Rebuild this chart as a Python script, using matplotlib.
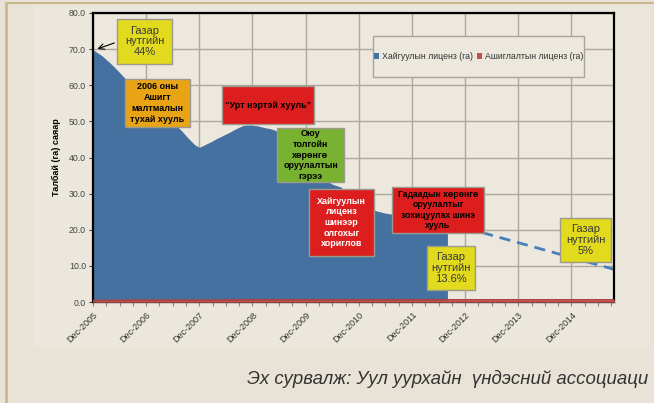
import matplotlib
matplotlib.use('agg')
import matplotlib.pyplot as plt
from matplotlib.patches import Rectangle, Patch
from matplotlib.lines import Line2D

plt.rcParams['font.family'] = ['Liberation Sans', 'DejaVu Sans']

# month index: 0 = Dec-2005
expl_vals = [69.8, 69.0, 68.2, 67.1, 66.0, 64.8, 63.5, 62.2, 61.3, 60.2,
             59.1, 58.0, 57.1, 56.0, 54.9, 53.7, 52.6, 51.3, 50.1, 48.6,
             47.4, 46.0, 44.7, 43.5, 42.8, 43.4, 44.0, 44.6, 45.3, 45.9,
             46.5, 47.1, 47.8, 48.4, 48.9, 49.0, 48.9, 48.8, 48.5, 48.2,
             48.0, 47.6, 46.9, 46.0, 44.9, 43.8, 42.5, 41.3, 40.0, 38.8,
             37.4, 36.1, 34.8, 33.5, 32.6, 32.2, 31.8, 30.6, 29.5, 28.5,
             27.6, 26.8, 26.2, 25.7, 25.2, 24.9, 24.6, 24.4, 24.3, 24.1,
             23.9, 23.7, 23.5, 23.3, 23.1, 22.9, 22.7, 22.5, 22.3, 22.1,
             21.9]
expl_months = list(range(len(expl_vals)))

mine_months = [0, 12, 24, 36, 48, 60, 72, 84, 96, 108, 118]
mine_vals = [0.4, 0.5, 0.5, 0.6, 0.6, 0.6, 0.6, 0.6, 0.6, 0.6, 0.6]

proj_months = [80, 118]
proj_vals = [21.9, 8.9]

tick_labels = ['Dec-2005', 'Dec-2006', 'Dec-2007', 'Dec-2008', 'Dec-2009',
               'Dec-2010', 'Dec-2011', 'Dec-2012', 'Dec-2013', 'Dec-2014']

W, H = 654, 403
fig = plt.figure(figsize=(W / 100, H / 100), dpi=100)
fig.patch.set_facecolor('#e8e3d6')

def px(x0, y0, x1, y1):
    return (x0 / W, 1 - y1 / H, (x1 - x0) / W, (y1 - y0) / H)

# chart area + frame lines
l, b, w, h = px(33, 5, 650, 347)
fig.add_artist(Rectangle((l, b), w, h, transform=fig.transFigure,
                         facecolor='#ebe7dc', edgecolor='none', zorder=-1))
fig.add_artist(Line2D([6 / W, 6 / W], [0, 1 - 3 / H], transform=fig.transFigure,
                      color='#c9b98d', lw=2))
fig.add_artist(Line2D([6 / W, 1], [1 - 3 / H, 1 - 3 / H], transform=fig.transFigure,
                      color='#c9b98d', lw=1.5))

ax = fig.add_axes(px(93, 13, 614, 302))
ax.set_facecolor('#ece8dd')

ax.fill_between(expl_months, expl_vals, 0, color='#4571a1', lw=0, zorder=2)
ax.fill_between(mine_months, mine_vals, 0, color='#c0504d', lw=0, zorder=3)
ax.plot(mine_months, mine_vals, color='#b2423f', lw=1.2, zorder=3)
ax.plot(proj_months, proj_vals, '--', color='#4a7ebb', lw=2, dashes=(4, 2.5), zorder=2)

ax.set_xlim(0, 117.6)
ax.set_ylim(0, 80)
ax.set_yticks(range(0, 81, 10))
ax.set_yticklabels(['%.1f' % v for v in range(0, 81, 10)])
ax.set_xticks(range(0, 109, 12))
ax.set_xticklabels(tick_labels, rotation=45, ha='right', va='top',
                   rotation_mode='anchor')
ax.set_xticks(range(0, 118, 3), minor=True)
ax.tick_params(axis='y', labelsize=6.3, colors='#444444', length=3, width=0.8, pad=2)
ax.tick_params(axis='x', which='both', labelsize=6.5, labelcolor='#333333',
               color='#888888', length=3, width=0.8, pad=3)
ax.grid(True, color='#aca89c', lw=1, zorder=0)
ax.set_axisbelow(True)
for s in ['left', 'top', 'right']:
    ax.spines[s].set_color('black')
    ax.spines[s].set_linewidth(1.6)
ax.spines['bottom'].set_color('#553333')
ax.spines['bottom'].set_linewidth(1)
ax.set_ylabel('Талбай (га) саяар', fontsize=6.5, fontweight='bold', labelpad=6)

# legend
l, b, w, h = px(373, 36, 584, 77)
fig.add_artist(Rectangle((l, b), w, h, transform=fig.transFigure,
                         facecolor='#ece8dd', edgecolor='#a8a498', lw=1))
handles = [Patch(facecolor='#4571a1', label='Хайгуулын лиценз (га)'),
           Patch(facecolor='#c0504d', label='Ашиглалтын лиценз (га)')]
fig.legend(handles=handles, loc='center', bbox_to_anchor=(l + w / 2, b + h / 2),
           ncol=2, frameon=False, fontsize=6.3, handlelength=0.6, handleheight=0.6,
           handletextpad=0.3, columnspacing=0.5, labelcolor='#333333')

# annotation boxes
def box(x0, y0, x1, y1, color, text, bold=True, fc='black', fs=6.5, ls=1.25):
    l, b, w, h = px(x0, y0, x1, y1)
    fig.add_artist(Rectangle((l, b), w, h, transform=fig.transFigure,
                             facecolor=color, edgecolor='#9c9a8c', lw=1, zorder=5))
    fig.text(l + w / 2, b + h / 2, text, ha='center', va='center', fontsize=fs,
             fontweight='bold' if bold else 'normal', color=fc,
             linespacing=ls, zorder=6)

yellow = '#e2da1c'
red = '#dc1e1e'
box(117, 19, 172, 64, yellow, 'Газар\nнутгийн\n44%', bold=False, fc='#3a3a3a', fs=8, ls=1.1)
box(125, 79, 190, 127, '#e8a415', '2006 оны\nАшигт\nмалтмалын\nтухай хууль')
box(222, 86, 314, 124, red, '“Урт нэртэй хууль”')
box(277, 128, 344, 182, '#79b131', 'Оюу\nтолгойн\nхөрөнгө\nоруулалтын\nгэрээ')
box(309, 189, 374, 256, red, 'Хайгуулын\nлиценз\nшинээр\nолгохыг\nхориглов', fc='white')
box(392, 187, 484, 233, red, 'Гадаадын хөрөнгө\nоруулалтыг\nзохицуулах шинэ\nхууль', fs=6.2, ls=1.2)
box(427, 246, 475, 290, yellow, 'Газар\nнутгийн\n13.6%', bold=False, fc='#3a3a3a', fs=8, ls=1.1)
box(560, 218, 611, 262, yellow, 'Газар\nнутгийн\n5%', bold=False, fc='#3a3a3a', fs=8, ls=1.1)

ax.annotate('', xy=(0.4, expl_vals[0]), xycoords='data',
            xytext=(117 / W, 1 - 42 / H), textcoords='figure fraction',
            arrowprops=dict(arrowstyle='->', color='black', lw=0.8), zorder=7)

fig.text(247 / W, 1 - 379 / H, 'Эх сурвалж: Уул уурхайн  үндэсний ассоциаци',
         fontsize=13.4, style='italic', color='#333333', va='center', ha='left')

fig.savefig('out.png', dpi=100, facecolor=fig.get_facecolor())
